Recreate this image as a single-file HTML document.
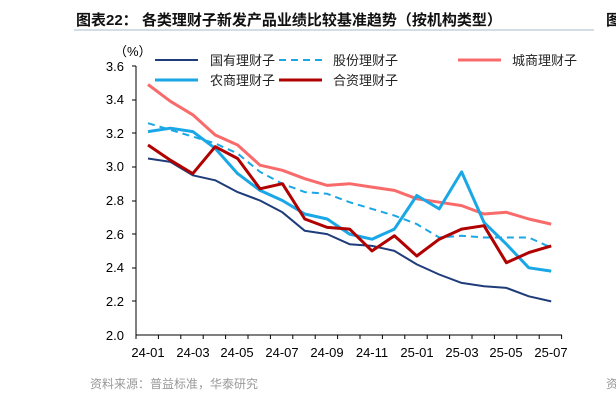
<!DOCTYPE html>
<html><head><meta charset="utf-8"><style>
body{margin:0;background:#fff;width:616px;height:403px;overflow:hidden;font-family:"Liberation Sans","Noto Sans CJK SC",sans-serif}
</style></head><body>
<svg width="616" height="403" xmlns="http://www.w3.org/2000/svg" font-family="Liberation Sans, Noto Sans CJK SC, sans-serif">
<text x="76" y="25" font-size="15" font-weight="bold" fill="#111">图表22：  各类理财子新发产品业绩比较基准趋势（按机构类型）</text>
<line x1="74" y1="30" x2="594" y2="30" stroke="#a8b8c8" stroke-width="1"/>
<text x="606" y="25" font-size="15" font-weight="bold" fill="#111">图</text>
<text x="114" y="56" font-size="13" fill="#000">（%）</text>
<g font-size="13" fill="#000" text-anchor="end">
<text x="124" y="71">3.6</text><text x="124" y="104">3.4</text><text x="124" y="138">3.2</text><text x="124" y="171">3.0</text><text x="124" y="205">2.8</text><text x="124" y="239">2.6</text><text x="124" y="272">2.4</text><text x="124" y="306">2.2</text><text x="124" y="340">2.0</text>
</g>
<g stroke="#000" stroke-width="1">
<line x1="136" y1="66" x2="136" y2="335"/>
<line x1="136" y1="335" x2="562" y2="335"/>
<line x1="132" y1="66" x2="136" y2="66"/>
<line x1="132" y1="100" x2="136" y2="100"/><line x1="132" y1="133" x2="136" y2="133"/><line x1="132" y1="167" x2="136" y2="167"/><line x1="132" y1="201" x2="136" y2="201"/><line x1="132" y1="234" x2="136" y2="234"/><line x1="132" y1="268" x2="136" y2="268"/><line x1="132" y1="301" x2="136" y2="301"/>
</g>
<g id="xt" stroke="#000"></g>
<g font-size="13" fill="#000" text-anchor="middle">
<text x="148" y="357">24-01</text><text x="193" y="357">24-03</text><text x="237" y="357">24-05</text><text x="282" y="357">24-07</text><text x="327" y="357">24-09</text><text x="372" y="357">24-11</text><text x="417" y="357">25-01</text><text x="462" y="357">25-03</text><text x="506" y="357">25-05</text><text x="551" y="357">25-07</text>
</g>
<g id="lines"></g>
<g font-size="13" fill="#222">
<line x1="155" y1="60" x2="198" y2="60" stroke="#1f3c7a" stroke-width="2"/><text x="210" y="65">国有理财子</text>
<line x1="279" y1="60" x2="322" y2="60" stroke="#1aa7e6" stroke-width="2" stroke-dasharray="7,5"/><text x="333" y="65">股份理财子</text>
<line x1="458" y1="60" x2="501" y2="60" stroke="#f96b6b" stroke-width="3"/><text x="512" y="65">城商理财子</text>
<line x1="155" y1="80" x2="198" y2="80" stroke="#1aa7e6" stroke-width="3"/><text x="210" y="85">农商理财子</text>
<line x1="279" y1="80" x2="322" y2="80" stroke="#b00000" stroke-width="3"/><text x="333" y="85">合资理财子</text>
</g>
<text x="90" y="388" font-size="12" fill="#999">资料来源：普益标准，华泰研究</text>
<text x="606" y="388" font-size="12" fill="#999">资</text>
</svg>
<script>
var d=[
["#1f3c7a",2,"",[3.05,3.03,2.95,2.92,2.85,2.80,2.73,2.62,2.60,2.54,2.53,2.50,2.42,2.36,2.31,2.29,2.28,2.23,2.20]],
["#1aa7e6",2,"7,5",[3.26,3.22,3.18,3.14,3.08,2.97,2.90,2.85,2.84,2.79,2.75,2.71,2.66,2.58,2.59,2.58,2.58,2.58,2.52]],
["#f96b6b",3,"",[3.49,3.39,3.31,3.19,3.13,3.01,2.98,2.93,2.89,2.90,2.88,2.86,2.81,2.79,2.77,2.72,2.73,2.69,2.66]],
["#1aa7e6",3,"",[3.21,3.23,3.21,3.11,2.96,2.86,2.80,2.72,2.69,2.60,2.57,2.63,2.83,2.75,2.97,2.67,2.54,2.40,2.38]],
["#b00000",3,"",[3.13,3.04,2.96,3.12,3.05,2.87,2.90,2.69,2.64,2.63,2.50,2.59,2.47,2.57,2.63,2.65,2.43,2.49,2.53]]];
var ns="http://www.w3.org/2000/svg",g=document.getElementById("lines");
d.forEach(function(s){var p=s[3].map(function(v,i){return (148+i*22.4).toFixed(1)+","+(335-(v-2)*168.1).toFixed(1)}).join(" ");
var e=document.createElementNS(ns,"polyline");e.setAttribute("points",p);e.setAttribute("fill","none");e.setAttribute("stroke",s[0]);e.setAttribute("stroke-width",s[1]);e.setAttribute("stroke-linejoin","round");if(s[2])e.setAttribute("stroke-dasharray",s[2]);g.appendChild(e);});
var t=document.getElementById("xt");for(var k=0;k<=19;k++){var l=document.createElementNS(ns,"line");var x=136+k*22.4;l.setAttribute("x1",x);l.setAttribute("x2",x);l.setAttribute("y1",335);l.setAttribute("y2",339);t.appendChild(l);}
</script>
</body></html>
